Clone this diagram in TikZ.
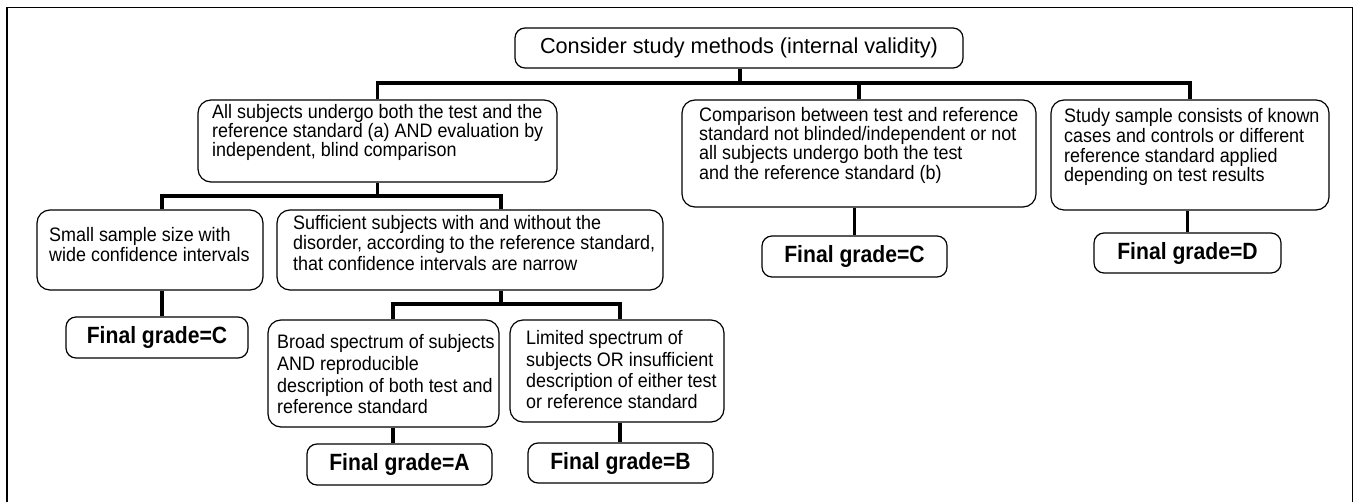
\documentclass[tikz,border=0pt]{standalone}
\usepackage{fontspec}
\setmainfont{Liberation Sans}
\newfontfamily\bodyfont{Liberation Sans}[FakeStretch=0.92]
\newfontfamily\gradefont{Liberation Sans}[FakeStretch=0.9]
\begin{document}
\begin{tikzpicture}[x=1pt,y=-1pt,
  box/.style={draw, line width=1.2pt, rounded corners=13pt, fill=white, inner sep=0pt},
  gbox/.style={draw, line width=1.2pt, rounded corners=10pt, fill=white, inner sep=0pt,
    font=\gradefont\fontsize{23.5}{26}\selectfont\bfseries},
  txt/.style={anchor=north west, inner sep=0pt, align=left},
  conn/.style={line width=3.2pt, line join=miter}]
\useasboundingbox (0,0) rectangle (1354,502);
% frame
\draw[line width=1.5pt] (7,503) -- (7,7.5) -- (1352.5,7.5) -- (1352.5,503);

% boxes
\node[box, rounded corners=10pt, minimum width=448pt, minimum height=40pt,
  font=\fontsize{21.7}{25}\selectfont] (top) at (739,48) {Consider study methods (internal validity)};
\node[box, minimum width=359pt, minimum height=82pt] (b1) at (377.5,141) {};
\node[box, minimum width=354pt, minimum height=107pt] (b2) at (859,153.5) {};
\node[box, minimum width=278pt, minimum height=110pt] (b3) at (1190,155) {};
\node[box, minimum width=226pt, minimum height=80pt] (small) at (150,250) {};
\node[box, minimum width=386pt, minimum height=80pt] (suff) at (470,250) {};
\node[box, minimum width=231pt, minimum height=107pt] (broad) at (383.5,373.5) {};
\node[box, minimum width=214pt, minimum height=102pt] (lim) at (617,371) {};

\node[gbox, minimum width=182pt, minimum height=41pt] (fc1) at (157,337.5) {Final grade=C};
\node[gbox, minimum width=185pt, minimum height=41pt] (fa) at (399.5,464.5) {Final grade=A};
\node[gbox, minimum width=185pt, minimum height=40pt] (fb) at (620.5,463) {Final grade=B};
\node[gbox, minimum width=185pt, minimum height=41pt] (fcm) at (854.5,256.5) {Final grade=C};
\node[gbox, minimum width=187pt, minimum height=40pt] (fd) at (1187.5,253) {Final grade=D};

% texts
\node[txt, font=\bodyfont\fontsize{19.5}{19}\selectfont] (t1) at (212,104)
  {All subjects undergo both the test and the\\reference standard (a) AND evaluation by\\independent, blind comparison};
\node[txt, font=\bodyfont\fontsize{19.5}{19.3}\selectfont] (t2) at (699,107)
  {Comparison between test and reference\\standard not blinded/independent or not\\all subjects undergo both the test\\and the reference standard (b)};
\node[txt, font=\bodyfont\fontsize{19.5}{19.7}\selectfont] (t3) at (1064,108.5)
  {Study sample consists of known\\cases and controls or different\\reference standard applied\\depending on test results};
\node[txt, font=\bodyfont\fontsize{19.5}{20}\selectfont] (t4) at (49,227)
  {Small sample size with\\wide confidence intervals};
\node[txt, font=\bodyfont\fontsize{19.5}{20.5}\selectfont] (t5) at (293,215)
  {Sufficient subjects with and without the\\disorder, according to the reference standard,\\that confidence intervals are narrow};
\node[txt, font=\bodyfont\fontsize{19.5}{21.6}\selectfont] (t6) at (277,334.5)
  {Broad spectrum of subjects\\AND reproducible\\description of both test and\\reference standard};
\node[txt, font=\bodyfont\fontsize{19.5}{21.3}\selectfont] (t7) at (526,330.5)
  {Limited spectrum of\\subjects OR insufficient\\description of either test\\or reference standard};

% junction coordinates
\coordinate (j1) at (740,83);
\coordinate (s1) at (162,196);
\coordinate (s2) at (501,196);
\coordinate (u1) at (393,304);
\coordinate (u2) at (620,304);

% connectors
\draw[conn] (top.south -| j1) -- (j1);
\draw[conn] (b1.north) |- (b3.north |- j1) -- (b3.north);
\draw[conn] (b2.north) -- (b2.north |- j1);
\draw[conn] (b1.south) -- (b1.south |- s1);
\draw[conn] (small.north -| s1) -- (s1) -- (s2) -- (suff.north -| s2);
\draw[conn] (small.south -| s1) -- (fc1.north -| s1);
\draw[conn] (suff.south -| s2) -- (s2 |- u1);
\draw[conn] (broad.north -| u1) -- (u1) -- (u2) -- (lim.north -| u2);
\draw[conn] (broad.south -| u1) -- (fa.north -| u1);
\draw[conn] (lim.south -| u2) -- (fb.north -| u2);
\draw[conn] (b2.south -| fcm.north) -- (fcm.north);
\draw[conn] (b3.south -| fd.north) -- (fd.north);
\end{tikzpicture}
\end{document}
